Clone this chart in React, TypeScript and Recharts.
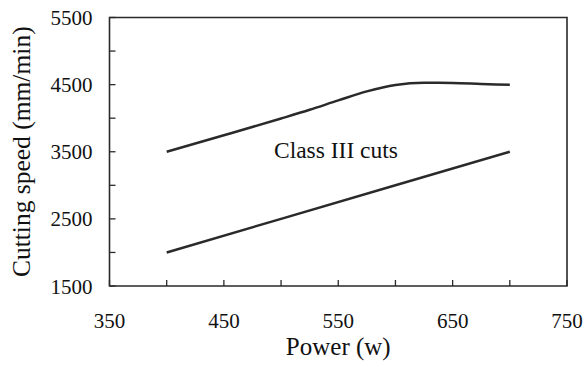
import React from 'react';
import { LineChart, Line, XAxis, YAxis, ReferenceArea, ReferenceDot } from 'recharts';

const upperPower = [400, 450, 500, 525, 550, 575, 600, 625, 650, 675, 700];
const upperSpeed = [3500, 3745, 3995, 4125, 4265, 4400, 4495, 4528, 4525, 4510, 4497];
const lowerPower = [400, 500, 600, 700];
const lowerSpeed = [2000, 2500, 3000, 3500];
const xTicks = [350, 400, 450, 500, 550, 600, 650, 700, 750];
const xLabels = [350, 450, 550, 650, 750];
const yTicks = [1500, 2000, 2500, 3000, 3500, 4000, 4500, 5000, 5500];
const yLabels = [1500, 2500, 3500, 4500, 5500];

const upperData = upperPower.map((p, i) => ({ p, v: upperSpeed[i] }));
const lowerData = lowerPower.map((p, i) => ({ p, v: lowerSpeed[i] }));

const FONT = "'Liberation Serif', 'Times New Roman', Times, serif";
const INK = '#2a2a2a';

const XTick = (props: any) => {
  const { x, y, payload } = props;
  const show = xLabels.includes(payload.value);
  return (
    <g>
      <line x1={x} x2={x} y1={y} y2={y - 6} stroke={INK} strokeWidth={1.3} />
      {show && (
        <text x={x} y={y + 42} textAnchor="middle" fontFamily={FONT} fontSize={21} fill="#111">
          {payload.value}
        </text>
      )}
    </g>
  );
};

const YTick = (props: any) => {
  const { x, y, payload } = props;
  const show = yLabels.includes(payload.value);
  return (
    <g>
      <line x1={x} x2={x + 6} y1={y} y2={y} stroke={INK} strokeWidth={1.3} />
      {show && (
        <text x={x - 17} y={y + 7.5} textAnchor="end" fontFamily={FONT} fontSize={21} fill="#111">
          {payload.value}
        </text>
      )}
    </g>
  );
};

const YTitle = (props: any) => {
  const vb = props.viewBox || {};
  const cx = (vb.x || 0) + 30;
  const cy = (vb.y || 0) + (vb.height || 0) / 2;
  return (
    <text
      x={cx}
      y={cy}
      transform={`rotate(-90, ${cx}, ${cy})`}
      textAnchor="middle"
      fontFamily={FONT}
      fontSize={25.5}
      fill="#111"
    >
      Cutting speed (mm/min)
    </text>
  );
};

const XTitle = (props: any) => {
  const vb = props.viewBox || {};
  const cx = (vb.x || 0) + (vb.width || 0) / 2;
  const cy = (vb.y || 0) + 69;
  return (
    <text x={cx} y={cy} textAnchor="middle" fontFamily={FONT} fontSize={25} fill="#111">
      Power (w)
    </text>
  );
};

export default function App() {
  return (
    <div style={{ position: 'absolute', left: 0, top: 0, background: '#fff', fontFamily: FONT }}>
      <LineChart width={586} height={367} margin={{ top: 17.5, right: 19, bottom: 0, left: 0 }}>
        <XAxis
          dataKey="p"
          type="number"
          domain={[350, 750]}
          ticks={xTicks}
          allowDataOverflow
          axisLine={false}
          tickLine={false}
          tickSize={0}
          tickMargin={0}
          tick={<XTick />}
          height={81}
          label={<XTitle />}
        />
        <YAxis
          type="number"
          domain={[1500, 5500]}
          ticks={yTicks}
          allowDataOverflow
          axisLine={false}
          tickLine={false}
          tickSize={0}
          tickMargin={0}
          tick={<YTick />}
          width={109.5}
          label={<YTitle />}
        />
        <ReferenceArea x1={350} x2={750} y1={1500} y2={5500} fill="none" stroke={INK} strokeWidth={1.6} ifOverflow="visible" />
        <Line data={upperData} dataKey="v" type="monotone" stroke={INK} strokeWidth={2.5} dot={false} isAnimationActive={false} />
        <Line data={lowerData} dataKey="v" type="linear" stroke={INK} strokeWidth={2.5} dot={false} isAnimationActive={false} />
        <ReferenceDot
          x={548}
          y={3530}
          r={0}
          fill="none"
          stroke="none"
          ifOverflow="visible"
          label={{ value: 'Class III cuts', position: 'center', style: { fontFamily: FONT, fontSize: 23.5, fill: '#111' } }}
        />
      </LineChart>
    </div>
  );
}
